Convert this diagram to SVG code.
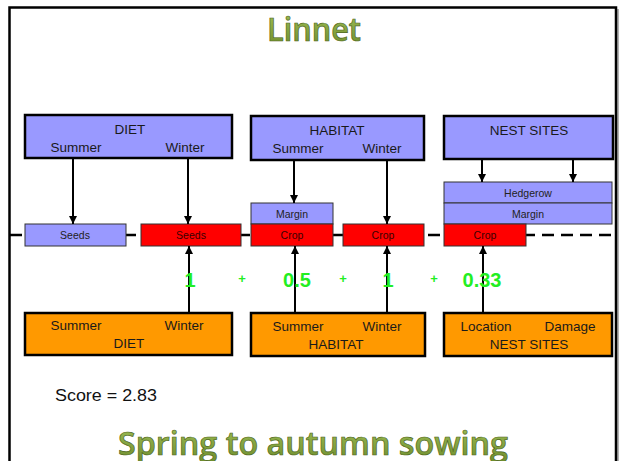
<svg xmlns="http://www.w3.org/2000/svg" width="621" height="461" viewBox="0 0 621 461">
  <defs>
    <linearGradient id="titleFill" x1="0" y1="0" x2="0" y2="1">
      <stop offset="0" stop-color="#a4c35a"/>
      <stop offset="1" stop-color="#6b8a2b"/>
    </linearGradient>
    <marker id="head" viewBox="0 0 10 10" refX="10" refY="5" markerWidth="4" markerHeight="4" orient="auto" markerUnits="strokeWidth">
      <path d="M0,0 L10,5 L0,10 z" fill="#000"/>
    </marker>
  </defs>
  <style>
    .big { stroke: #000; stroke-width: 2.5; }
    .small { stroke: #333; stroke-width: 1; }
    .blue { fill: #9999ff; }
    .red { fill: #ff0000; }
    .orange { fill: #ff9900; }
    .lbl { font-family: "Liberation Sans", Arial, sans-serif; font-size: 13.5px; fill: #1a1a1a; text-anchor: middle; }
    .sm { font-family: "Liberation Sans", Arial, sans-serif; font-size: 10.5px; fill: #222; text-anchor: middle; }
    .smr { font-family: "Liberation Sans", Arial, sans-serif; font-size: 10.5px; fill: #3a0000; text-anchor: middle; }
    .num { font-family: "Liberation Sans", Arial, sans-serif; font-weight: bold; font-size: 20px; fill: #22ee22; text-anchor: middle; }
    .plus { font-family: "Liberation Sans", Arial, sans-serif; font-weight: bold; font-size: 13px; fill: #22ee22; text-anchor: middle; }
    .title { font-family: "Open Sans", "Liberation Sans", sans-serif; font-weight: 600; fill: url(#titleFill); stroke: #4d661c; stroke-width: 0.7; text-anchor: middle; }
    .conn { stroke: #000; stroke-width: 2; fill: none; marker-end: url(#head); }
  </style>

  <rect width="621" height="461" fill="#fff"/>

  <!-- page frame -->
  <line x1="618" y1="9" x2="618" y2="461" stroke="#999" stroke-width="1.5"/>
  <path d="M9.5,470 V7.5 H616 V470" fill="none" stroke="#000" stroke-width="2.5"/>

  <!-- headings -->
  <text class="title" x="314" y="41" font-size="32" textLength="94" lengthAdjust="spacingAndGlyphs">Linnet</text>
  <text class="title" x="313" y="455" font-size="33" textLength="390" lengthAdjust="spacingAndGlyphs">Spring to autumn sowing</text>

  <!-- field boundary (dashed) -->
  <line x1="10" y1="235" x2="616" y2="235" stroke="#000" stroke-width="2.5" stroke-dasharray="12 7"/>

  <!-- upper factor groups -->
  <g id="diet-top">
    <rect class="big blue" x="25" y="115" width="207" height="43"/>
    <text class="lbl" x="130" y="134">DIET</text>
    <text class="lbl" x="76" y="152">Summer</text>
    <text class="lbl" x="185" y="152">Winter</text>
  </g>
  <g id="habitat-top">
    <rect class="big blue" x="251" y="116" width="173" height="44"/>
    <text class="lbl" x="337" y="135">HABITAT</text>
    <text class="lbl" x="298" y="153">Summer</text>
    <text class="lbl" x="382" y="153">Winter</text>
  </g>
  <g id="nest-top">
    <rect class="big blue" x="444" y="116" width="169" height="43"/>
    <text class="lbl" x="529" y="135">NEST SITES</text>
  </g>

  <!-- resource cells -->
  <g id="seeds-summer">
    <rect class="small blue" x="25" y="224" width="101" height="22"/>
    <text class="sm" x="75" y="239">Seeds</text>
  </g>
  <g id="seeds-winter">
    <rect class="small red" x="141" y="224" width="100" height="22"/>
    <text class="smr" x="191" y="239">Seeds</text>
  </g>
  <g id="margin-summer">
    <rect class="small blue" x="251" y="203" width="82" height="21"/>
    <text class="sm" x="292" y="218">Margin</text>
  </g>
  <g id="crop-summer">
    <rect class="small red" x="251" y="224" width="82" height="22"/>
    <text class="smr" x="292" y="239">Crop</text>
  </g>
  <g id="crop-winter">
    <rect class="small red" x="343" y="224" width="81" height="22"/>
    <text class="smr" x="383" y="239">Crop</text>
  </g>
  <g id="hedgerow">
    <rect class="small blue" x="444" y="182" width="168" height="21"/>
    <text class="sm" x="528" y="197">Hedgerow</text>
  </g>
  <g id="margin-nest">
    <rect class="small blue" x="444" y="203" width="168" height="21"/>
    <text class="sm" x="528" y="218">Margin</text>
  </g>
  <g id="crop-nest">
    <rect class="small red" x="444" y="224" width="82" height="22"/>
    <text class="smr" x="485" y="239">Crop</text>
  </g>

  <!-- lower score groups -->
  <g id="diet-bottom">
    <rect class="big orange" x="25" y="313" width="207" height="42"/>
    <text class="lbl" x="76" y="330">Summer</text>
    <text class="lbl" x="184" y="330">Winter</text>
    <text class="lbl" x="129" y="348">DIET</text>
  </g>
  <g id="habitat-bottom">
    <rect class="big orange" x="251" y="313" width="174" height="43"/>
    <text class="lbl" x="298" y="331">Summer</text>
    <text class="lbl" x="382" y="331">Winter</text>
    <text class="lbl" x="336" y="349">HABITAT</text>
  </g>
  <g id="nest-bottom">
    <rect class="big orange" x="444" y="313" width="168" height="43"/>
    <text class="lbl" x="486" y="331">Location</text>
    <text class="lbl" x="570" y="331">Damage</text>
    <text class="lbl" x="529" y="349">NEST SITES</text>
  </g>

  <!-- connectors -->
  <g id="connectors">
    <line class="conn" x1="73" y1="159" x2="73" y2="224"/>
    <line class="conn" x1="188" y1="159" x2="188" y2="224"/>
    <line class="conn" x1="294" y1="161" x2="294" y2="203"/>
    <line class="conn" x1="387" y1="161" x2="387" y2="224"/>
    <line class="conn" x1="482" y1="160" x2="482" y2="182"/>
    <line class="conn" x1="573" y1="160" x2="573" y2="182"/>
    <line class="conn" x1="189" y1="312" x2="189" y2="246"/>
    <line class="conn" x1="295" y1="312" x2="295" y2="246"/>
    <line class="conn" x1="387" y1="312" x2="387" y2="246"/>
    <line class="conn" x1="483" y1="312" x2="483" y2="246"/>
  </g>

  <!-- score sum -->
  <g id="sum">
    <text class="num" x="190" y="287">1</text>
    <text class="plus" x="242" y="283">+</text>
    <text class="num" x="297" y="287">0.5</text>
    <text class="plus" x="343" y="283">+</text>
    <text class="num" x="388" y="287">1</text>
    <text class="plus" x="434" y="283">+</text>
    <text class="num" x="482" y="287">0.33</text>
  </g>

  <text x="55" y="401" font-family="'Liberation Sans', Arial, sans-serif" font-size="16" fill="#111" textLength="102" lengthAdjust="spacingAndGlyphs">Score = 2.83</text>
</svg>
